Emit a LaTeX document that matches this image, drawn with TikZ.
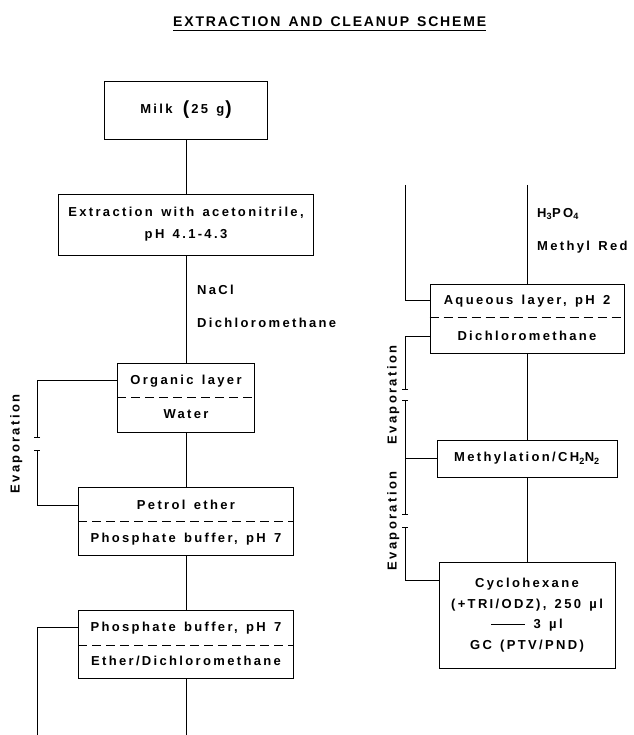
\documentclass[tikz,border=0pt]{standalone}
\usepackage{fontspec}
\setmainfont{Liberation Sans}[LetterSpace=18, WordSpace=1.4]
\usepackage{tikz}
\usetikzlibrary{arrows.meta}

\begin{document}
\begin{tikzpicture}[x=1pt,y=-1pt,
	box/.style={draw, line width=0.9pt, inner sep=0pt, align=center, font=\fontsize{13}{22}\selectfont\bfseries},
	txt/.style={inner sep=0pt, font=\fontsize{13}{15}\selectfont\bfseries, text height=9.3pt, text depth=0pt},
	lbl/.style={txt, anchor=west},
	evap/.style={txt, rotate=90},
	ln/.style={line width=0.8pt},
	sep/.style={line width=0.8pt, dash pattern=on 9pt off 5pt},
	cut/.style={ln, -{Bar[width=6pt]}}
	]
	\useasboundingbox (0,0) rectangle (633,735);

	% Titel
	\node[inner sep=0pt, anchor=base west, font=\fontsize{14}{16}\selectfont\bfseries\addfontfeature{LetterSpace=13}] (title) at (173,27) {EXTRACTION AND CLEANUP SCHEME};
	\draw[line width=1pt] ([yshift=-4pt]title.base west) -- ([yshift=-4pt]title.base east);

	% linke Spalte
	\node[box, minimum width=163pt, minimum height=58pt] (milk) at (186,110) {Milk\hspace{0.8em}\raisebox{-1.5pt}{\fontsize{19}{19}\selectfont(}\hspace{2pt}25 g\hspace{1pt}\raisebox{-1.5pt}{\fontsize{19}{19}\selectfont)}};
	\node[box, minimum width=255pt, minimum height=61pt] (ext) at (186,224.5) {Extraction with acetonitrile,\\pH 4.1-4.3};
	\node[lbl] (nacl) at (197,290) {NaCl};
	\node[lbl] (dcm) at (197,323) {Dichloromethane};

	\node[box, minimum width=137pt, minimum height=69pt] (org) at (186,397.5) {};
	\node[txt] (orgtop) at (186,380) {Organic layer};
	\node[txt] (orgbot) at (186,414) {Water};
	\draw[sep] (org.west |- 0,397) -- (org.east |- 0,397);

	\node[box, minimum width=215pt, minimum height=68pt] (pet) at (186,521) {};
	\node[txt] (pettop) at (186,505) {Petrol ether};
	\node[txt] (petbot) at (186,538) {Phosphate buffer, pH 7};
	\draw[sep] (pet.west |- 0,521) -- (pet.east |- 0,521);

	\node[box, minimum width=215pt, minimum height=68pt] (pho) at (186,644) {};
	\node[txt] (photop) at (186,627) {Phosphate buffer, pH 7};
	\node[txt] (phobot) at (186,661) {Ether/Dichloromethane};
	\draw[sep] (pho.west |- 0,645) -- (pho.east |- 0,645);

	\node[evap] (evl) at (15,444) {Evaporation};

	\coordinate (ev1a) at (37,438);
	\coordinate (ev1b) at (37,450);
	\coordinate (phoend) at (186,735);
	\coordinate (phoout) at (37,735);

	\draw[ln] (milk) -- (ext);
	\draw[ln] (ext) -- (org);
	\draw[ln] (org) -- (pet);
	\draw[ln] (pet) -- (pho);
	\draw[ln] (pho) -- (phoend);
	\draw[cut] (org.west |- orgtop) -| (ev1a);
	\draw[ln, {Bar[width=6pt]}-] (ev1b) |- (pet.west |- pettop);
	\draw[ln] (pho.west |- photop) -| (phoout);

	% rechte Spalte
	\coordinate (aqin) at (527,185);
	\coordinate (aqout) at (405,185);
	\node[lbl] (h3po4) at (537,213) {H\textsubscript{3}PO\textsubscript{4}};
	\node[lbl] (mred) at (537,246) {Methyl Red};

	\node[box, minimum width=194pt, minimum height=69pt] (aq) at (527,318.5) {};
	\node[txt] (aqtop) at (527,300) {Aqueous layer, pH 2};
	\node[txt] (aqbot) at (527,336) {Dichloromethane};
	\draw[sep] (aq.west |- 0,317) -- (aq.east |- 0,317);

	\node[box, minimum width=180pt, minimum height=37pt] (meth) at (527,458.5) {Methylation/CH\textsubscript{2}N\textsubscript{2}};

	\node[box, minimum width=176pt, minimum height=106pt, font=\fontsize{13}{20.5}\selectfont\bfseries] (cyc) at (527,615) {Cyclohexane\\(+TRI/ODZ), 250 µl\\\rule[3.5pt]{34pt}{0.8pt} 3 µl\\GC (PTV/PND)};

	\node[evap] (evr1) at (392,395) {Evaporation};
	\node[evap] (evr2) at (392,521) {Evaporation};

	\coordinate (ev2a) at (405,390);
	\coordinate (ev2b) at (405,400);
	\coordinate (ev3a) at (405,515);
	\coordinate (ev3b) at (405,527);

	\draw[ln] (aqin) -- (aq);
	\draw[ln] (aqout) |- (aq.west |- aqtop);
	\draw[ln] (aq) -- (meth);
	\draw[ln] (meth) -- (cyc);
	\draw[cut] (aq.west |- aqbot) -| (ev2a);
	\draw[ln, {Bar[width=6pt]}-{Bar[width=6pt]}] (ev2b) -- (ev3a);
	\draw[ln] (meth.west) -- (meth.west -| ev2b);
	\draw[ln, {Bar[width=6pt]}-] (ev3b) |- (cyc.west |- 0,580);
\end{tikzpicture}
\end{document}
